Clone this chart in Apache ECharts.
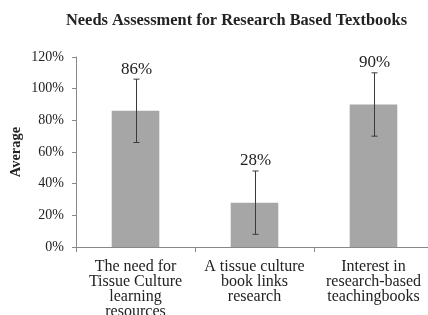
<!DOCTYPE html>
<html>
<head>
<meta charset="utf-8">
<script src="https://cdn.jsdelivr.net/npm/echarts@6/dist/echarts.min.js"></script>
<style>
  html, body { margin: 0; padding: 0; background: #fff; }
  #chart { width: 428px; height: 315px; }
</style>
</head>
<body>
<div id="chart"></div>
<script>
// data
const categories = [
  'The need for\nTissue Culture\nlearning\nresources',
  'A tissue culture\nbook links\nresearch',
  'Interest in\nresearch-based\nteachingbooks'
];
const averages = [86, 28, 90];
const errors = [20, 20, 20];
const yTicks = [0, 20, 40, 60, 80, 100, 120];

const serif = '"Liberation Serif", "DejaVu Serif", serif';
const myEchart = echarts.init(document.getElementById('chart'));

const option = {
  animation: false,
  title: {
    text: 'Needs Assessment for Research Based Textbooks',
    left: 61,
    top: 8,
    textStyle: { fontFamily: serif, fontWeight: 'bold', fontSize: 16.4, color: '#222' }
  },
  grid: { left: 76, right: -5, top: 57, bottom: 68, outerBoundsMode: 'none' },
  xAxis: {
    type: 'category',
    data: categories,
    axisLine: { lineStyle: { color: '#888', width: 1 } },
    axisTick: { show: true, length: 5, lineStyle: { color: '#888' } },
    axisLabel: {
      interval: 0,
      fontFamily: serif, fontSize: 16, color: '#222',
      lineHeight: 15, margin: 12
    }
  },
  yAxis: {
    type: 'value',
    min: yTicks[0],
    max: yTicks[yTicks.length - 1],
    interval: 20,
    name: 'Average',
    nameLocation: 'middle',
    nameGap: 52,
    nameMoveOverlap: false,
    nameTextStyle: { fontFamily: serif, fontWeight: 'bold', fontSize: 14.5, color: '#222' },
    axisLine: { show: true, lineStyle: { color: '#888', width: 1 } },
    axisTick: { show: true, length: 4, lineStyle: { color: '#888' } },
    splitLine: { show: false },
    axisLabel: {
      fontFamily: serif, fontSize: 14, color: '#222', margin: 12,
      formatter: function (v) { return v + '%'; }
    }
  },
  series: [
    {
      type: 'bar',
      data: averages,
      barWidth: '40%',
      itemStyle: { color: '#a6a6a6' }
    },
    {
      type: 'custom',
      data: averages.map(function (v, i) { return [i, v - errors[i], v + errors[i], v]; }),
      renderItem: function (params, api) {
        const lo = api.coord([api.value(0), api.value(1)]);
        const hi = api.coord([api.value(0), api.value(2)]);
        const x = Math.round(hi[0]) + 0.5;
        const cap = 3;
        const style = { stroke: '#3a3a3a', lineWidth: 1 };
        return {
          type: 'group',
          children: [
            { type: 'line', shape: { x1: x, y1: hi[1], x2: x, y2: lo[1] }, style: style },
            { type: 'line', shape: { x1: x - cap, y1: hi[1], x2: x + cap, y2: hi[1] }, style: style },
            { type: 'line', shape: { x1: x - cap, y1: lo[1], x2: x + cap, y2: lo[1] }, style: style },
            {
              type: 'text',
              x: x, y: hi[1] - 10,
              style: {
                text: api.value(3) + '%',
                textAlign: 'center', textVerticalAlign: 'middle',
                fontFamily: serif, fontSize: 17, fill: '#222'
              }
            }
          ]
        };
      },
      z: 5
    }
  ]
};

myEchart.setOption(option);
</script>
</body>
</html>
